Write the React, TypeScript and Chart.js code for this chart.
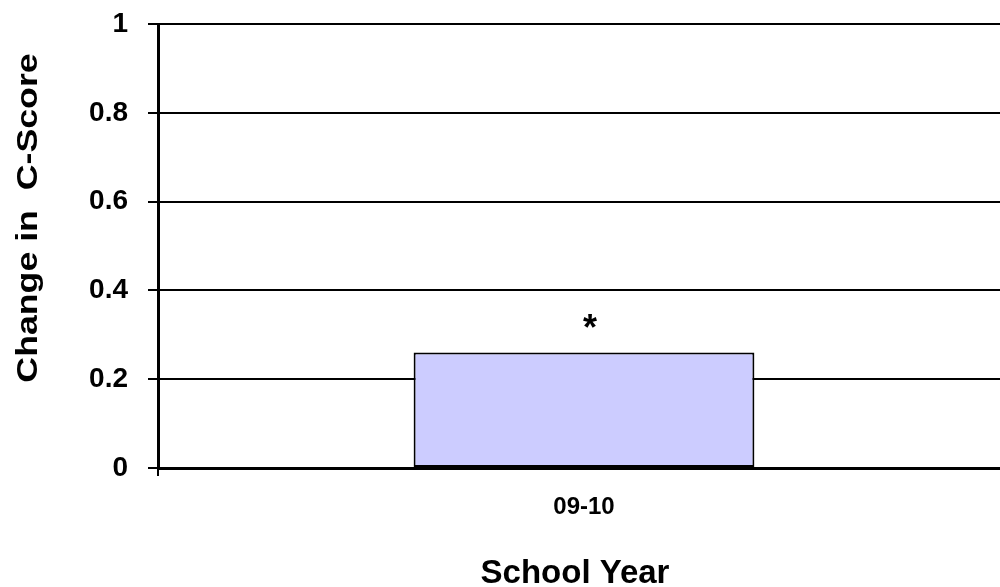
import React, { useEffect, useRef } from "react";
import { Chart, registerables } from "chart.js";

Chart.register(...registerables);

const categories: string[] = ["09-10"];
const changeValues: number[] = [0.26];
const significance: string[] = ["*"];
const yTickValues: number[] = [0, 0.2, 0.4, 0.6, 0.8, 1];
const yAxisTitle = "Change in  C-Score";
const xAxisTitle = "School Year";

const FONT = "'Liberation Sans', Arial, Helvetica, sans-serif";

const annotationPlugin = {
  id: "annotations",
  afterDraw(chart: any) {
    const ctx = chart.ctx;
    const area = chart.chartArea;
    ctx.save();
    ctx.fillStyle = "#000";

    // significance markers above bars
    const meta = chart.getDatasetMeta(0);
    ctx.font = `bold 36px ${FONT}`;
    ctx.textAlign = "center";
    ctx.textBaseline = "alphabetic";
    meta.data.forEach((el: any, i: number) => {
      const mark = significance[i];
      if (!mark) return;
      ctx.fillText(mark, el.x + 6, el.y - 13);
    });

    // x axis title
    ctx.font = `bold 33px ${FONT}`;
    ctx.textAlign = "center";
    ctx.textBaseline = "alphabetic";
    ctx.fillText(xAxisTitle, (area.left + area.right) / 2 - 9, chart.height - 4);

    // y axis title (rotated, slightly stretched along its length)
    ctx.save();
    ctx.translate(37, (area.top + area.bottom) / 2 - 28);
    ctx.rotate(-Math.PI / 2);
    ctx.scale(1.19, 1);
    ctx.font = `bold 30px ${FONT}`;
    ctx.textAlign = "center";
    ctx.textBaseline = "alphabetic";
    ctx.fillText(yAxisTitle, 0, 0);
    ctx.restore();

    ctx.restore();
  },
};

export default function App() {
  const canvasRef = useRef<HTMLCanvasElement | null>(null);

  useEffect(() => {
    const canvas = canvasRef.current;
    if (!canvas) return;
    const chart = new Chart(canvas, {
      type: "bar",
      data: {
        labels: categories,
        datasets: [
          {
            label: "Change in C-Score",
            data: changeValues,
            backgroundColor: "#CCCCFF",
            borderColor: "#000000",
            borderWidth: 2,
            borderSkipped: false,
            barPercentage: 0.4,
            categoryPercentage: 1,
          },
        ],
      },
      options: {
        responsive: false,
        animation: false,
        devicePixelRatio: 1,
        layout: { padding: { top: 24, right: 0, left: 0, bottom: 0 } },
        plugins: {
          legend: { display: false },
          tooltip: { enabled: false },
          title: { display: false },
        },
        scales: {
          x: {
            offset: true,
            grid: {
              display: true,
              offset: true,
              drawOnChartArea: false,
              drawTicks: true,
              tickLength: 8,
              color: "#000",
              lineWidth: 2,
            },
            border: { display: true, color: "#000", width: 3 },
            ticks: {
              color: "#000",
              font: { family: FONT, size: 24, weight: "bold" },
              padding: 17,
              maxRotation: 0,
            },
            afterFit(scale: any) {
              scale.height = 119;
              scale.paddingLeft = 0;
              scale.paddingRight = 0;
            },
          },
          y: {
            min: yTickValues[0],
            max: yTickValues[yTickValues.length - 1],
            afterBuildTicks(scale: any) {
              scale.ticks = yTickValues.map((v) => ({ value: v }));
            },
            grid: {
              color: "#000",
              lineWidth: 2,
              drawTicks: true,
              tickLength: 10,
            },
            border: { display: true, color: "#000", width: 3 },
            ticks: {
              color: "#000",
              font: { family: FONT, size: 28, weight: "bold" },
              padding: 20,
              callback: (v: any) => String(Number(Number(v).toFixed(1))),
            },
            afterFit(scale: any) {
              scale.width = 158;
              scale.paddingTop = 0;
              scale.paddingBottom = 0;
            },
          },
        },
      },
      plugins: [annotationPlugin],
    });
    return () => chart.destroy();
  }, []);

  return (
    <div
      style={{
        position: "fixed",
        left: 0,
        top: 0,
        width: 1000,
        height: 587,
        overflow: "hidden",
        background: "#fff",
      }}
    >
      <canvas
        ref={canvasRef}
        width={1010}
        height={587}
        style={{ display: "block", width: 1010, height: 587 }}
      />
    </div>
  );
}
